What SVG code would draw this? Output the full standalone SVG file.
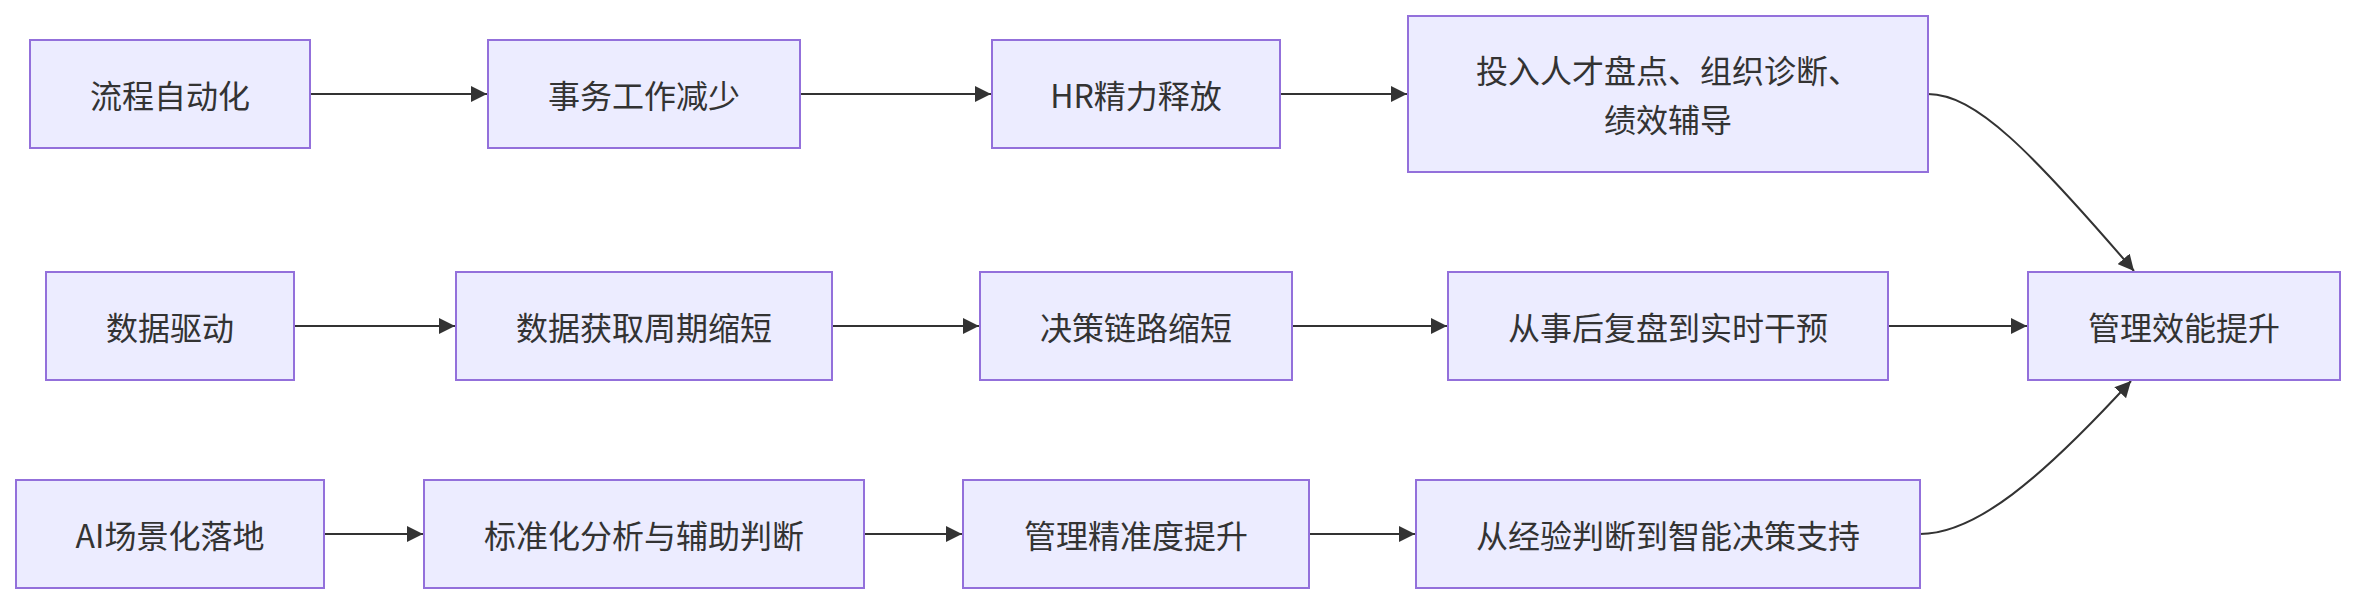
<svg xmlns="http://www.w3.org/2000/svg" width="2355" height="604" viewBox="0 0 2355 604">
<defs>
<style>
.node rect{fill:#ECECFF;stroke:#9370DB;stroke-width:2}
.node text{font-family:"Noto Sans CJK SC","Noto Sans",sans-serif;font-size:32px;fill:#333;text-anchor:middle;dominant-baseline:central}
.edge{fill:none;stroke:#333;stroke-width:2}
</style>
<marker id="arr" markerUnits="userSpaceOnUse" markerWidth="16" markerHeight="16" viewBox="0 0 10 10" refX="10" refY="5" orient="auto">
<path d="M0,0 L10,5 L0,10 z" fill="#333"/>
</marker>
</defs>
<rect width="2355" height="604" fill="#fff"/>
<g id="connectors">
<path class="edge" d="M310,94 L487,94" marker-end="url(#arr)"/>
<path class="edge" d="M800,94 L991,94" marker-end="url(#arr)"/>
<path class="edge" d="M1280,94 L1407,94" marker-end="url(#arr)"/>
<path class="edge" d="M1928,94 C1975,94 2030,150 2134,271" marker-end="url(#arr)"/>
<path class="edge" d="M294,326 L455,326" marker-end="url(#arr)"/>
<path class="edge" d="M832,326 L979,326" marker-end="url(#arr)"/>
<path class="edge" d="M1292,326 L1447,326" marker-end="url(#arr)"/>
<path class="edge" d="M1888,326 L2027,326" marker-end="url(#arr)"/>
<path class="edge" d="M324,534 L423,534" marker-end="url(#arr)"/>
<path class="edge" d="M864,534 L962,534" marker-end="url(#arr)"/>
<path class="edge" d="M1309,534 L1415,534" marker-end="url(#arr)"/>
<path class="edge" d="M1920,534 C1975,534 2040,480 2131,381" marker-end="url(#arr)"/>
</g>
<g id="A" class="node"><rect x="30" y="40" width="280" height="108"/><text x="170" y="94">流程自动化</text></g>
<g id="B" class="node"><rect x="488" y="40" width="312" height="108"/><text x="644" y="94">事务工作减少</text></g>
<g id="C" class="node"><rect x="992" y="40" width="288" height="108"/><text x="1136" y="94">HR精力释放</text></g>
<g id="D" class="node"><rect x="1408" y="16" width="520" height="156"/><text x="1668" y="69">投入人才盘点、组织诊断、</text><text x="1668" y="118">绩效辅导</text></g>
<g id="E" class="node"><rect x="46" y="272" width="248" height="108"/><text x="170" y="326">数据驱动</text></g>
<g id="F" class="node"><rect x="456" y="272" width="376" height="108"/><text x="644" y="326">数据获取周期缩短</text></g>
<g id="G" class="node"><rect x="980" y="272" width="312" height="108"/><text x="1136" y="326">决策链路缩短</text></g>
<g id="H" class="node"><rect x="1448" y="272" width="440" height="108"/><text x="1668" y="326">从事后复盘到实时干预</text></g>
<g id="I" class="node"><rect x="2028" y="272" width="312" height="108"/><text x="2184" y="326">管理效能提升</text></g>
<g id="J" class="node"><rect x="16" y="480" width="308" height="108"/><text x="170" y="534">AI场景化落地</text></g>
<g id="K" class="node"><rect x="424" y="480" width="440" height="108"/><text x="644" y="534">标准化分析与辅助判断</text></g>
<g id="L" class="node"><rect x="963" y="480" width="346" height="108"/><text x="1136" y="534">管理精准度提升</text></g>
<g id="M" class="node"><rect x="1416" y="480" width="504" height="108"/><text x="1668" y="534">从经验判断到智能决策支持</text></g>
</svg>
